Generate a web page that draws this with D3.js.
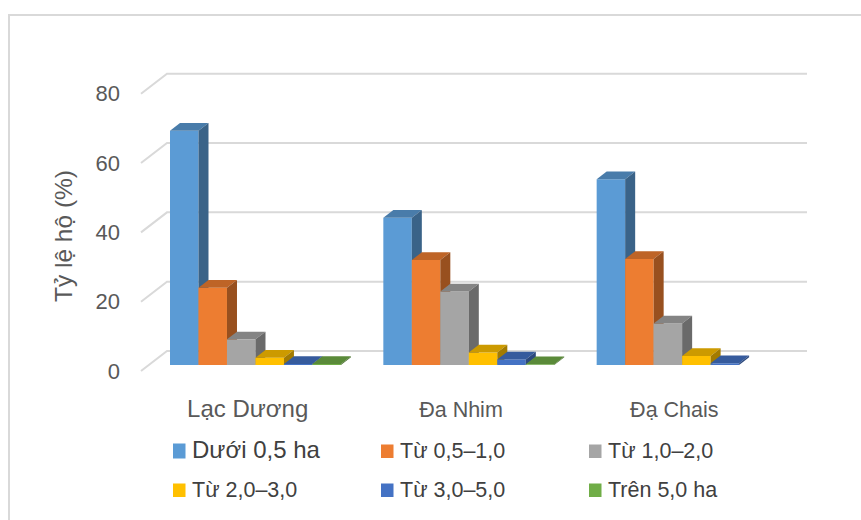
<!DOCTYPE html>
<html>
<head>
<meta charset="utf-8">
<script src="https://cdn.jsdelivr.net/npm/d3@7"></script>
<style>
  html, body { margin: 0; padding: 0; background: #ffffff; }
  svg { display: block; font-family: "Liberation Sans", Arial, sans-serif; }
</style>
</head>
<body>
<svg id="chart" width="861" height="520"></svg>
<script>
// Farm size groups (share of households, %) by commune
const categories = ["Lạc Dương", "Đa Nhim", "Đạ Chais"];
const seriesNames = ["Dưới 0,5 ha", "Từ 0,5–1,0", "Từ 1,0–2,0", "Từ 2,0–3,0", "Từ 3,0–5,0", "Trên 5,0 ha"];
const duoi05 = [67.6, 42.5, 53.6];
const tu05den1 = [22.3, 30.3, 30.6];
const tu1den2 = [7.4, 21.2, 12.0];
const tu2den3 = [2.1, 3.6, 2.6];
const tu3den5 = [0.3, 1.6, 0.5];
const tren5 = [0.3, 0.2, 0];
const yTicks = [0, 20, 40, 60, 80];
const yTitle = "Tỷ lệ hộ (%)";

const seriesValues = [duoi05, tu05den1, tu1den2, tu2den3, tu3den5, tren5];
const colors = ["#5B9BD5", "#ED7D31", "#A5A5A5", "#FFC000", "#4472C4", "#70AD47"];

const svg = d3.select("#chart");

// outer chart frame
svg.append("rect")
  .attr("x", 9).attr("y", 15).attr("width", 900).attr("height", 600)
  .attr("fill", "none").attr("stroke", "#d9d9d9").attr("stroke-width", 2);

// front plane scales, with an oblique depth vector for the 3D look
const x0 = d3.scaleBand().domain(categories).range([141, 781]).paddingInner(0).paddingOuter(0);
const groupPad = 21.2;
const x1 = d3.scaleBand().domain(seriesNames).range([groupPad, x0.bandwidth() - groupPad]).padding(0);
const y = d3.scaleLinear().domain([0, 80]).range([371, 93.7]);
const depth = { dx: 26, dy: -20 };
const barFront = 0.3, barBack = 0.685;

const proj = (x, v, f) => [x + depth.dx * f, y(v) + depth.dy * f];

// gridlines: back wall + floor-side diagonal
const grid = svg.append("g").attr("stroke", "#d9d9d9").attr("stroke-width", 2).attr("fill", "none");
yTicks.forEach(t => {
  const a = proj(x0.range()[0], t, 0);
  const b = proj(x0.range()[0], t, 1);
  const c = proj(x0.range()[1], t, 1);
  grid.append("path").attr("d", `M${a[0]},${a[1]}L${b[0]},${b[1]}L${c[0]},${c[1]}`);
});

// value axis labels
svg.append("g").selectAll("text").data(yTicks).join("text")
  .attr("x", 120).attr("y", d => y(d))
  .attr("dy", "0.35em")
  .attr("text-anchor", "end")
  .attr("fill", "#595959")
  .attr("font-size", 22)
  .text(d => d);

// axis title
svg.append("text")
  .attr("transform", "translate(72,236) rotate(-90)")
  .attr("text-anchor", "middle")
  .attr("fill", "#595959")
  .attr("font-size", 24.5)
  .text(yTitle);

// bars (zero values are not drawn)
const shade = (c, k) => { const r = d3.rgb(c); return d3.rgb(r.r * k, r.g * k, r.b * k).formatHex(); };
const bars = svg.append("g");
categories.forEach((cat, ci) => {
  seriesNames.forEach((s, si) => {
    const v = seriesValues[si][ci];
    if (!(v > 0)) return;
    const xl = x0(cat) + x1(s);
    const xr = xl + x1.bandwidth();
    const fbl = proj(xl, 0, barFront), fbr = proj(xr, 0, barFront);
    const ftl = proj(xl, v, barFront), ftr = proj(xr, v, barFront);
    const btl = proj(xl, v, barBack), btr = proj(xr, v, barBack);
    const bbr = proj(xr, 0, barBack);
    const col = colors[si];
    const poly = pts => "M" + pts.map(p => p.join(",")).join("L") + "Z";
    bars.append("path").attr("d", poly([fbl, fbr, ftr, ftl])).attr("fill", col);
    bars.append("path").attr("d", poly([ftl, ftr, btr, btl])).attr("fill", shade(col, 0.8));
    bars.append("path").attr("d", poly([fbr, bbr, btr, ftr])).attr("fill", shade(col, 0.64));
  });
});

// category labels
const catSize = [24, 21.5, 21.5];
svg.append("g").selectAll("text").data(categories).join("text")
  .attr("x", d => x0(d) + x0.bandwidth() / 2)
  .attr("y", 417)
  .attr("text-anchor", "middle")
  .attr("fill", "#595959")
  .attr("font-size", (d, i) => catSize[i])
  .text(d => d);

// legend: three columns, two rows
const legendCols = [173, 381, 589];
const legendRows = [458, 497];
const legend = svg.append("g");
seriesNames.forEach((s, i) => {
  const cx = legendCols[i % 3], by = legendRows[Math.floor(i / 3)];
  const big = i === 0;
  legend.append("rect")
    .attr("x", cx).attr("y", by - (big ? 14.5 : 13.5))
    .attr("width", 12.5).attr("height", big ? 15 : 13.5)
    .attr("fill", colors[i]);
  legend.append("text")
    .attr("x", cx + 19).attr("y", by)
    .attr("fill", "#404040")
    .attr("font-size", big ? 24 : 21.5)
    .text(s);
});
</script>
</body>
</html>
